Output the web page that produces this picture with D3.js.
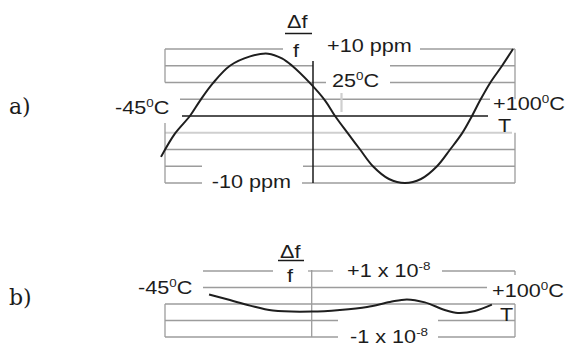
<!DOCTYPE html>
<html>
<head>
<meta charset="utf-8">
<script src="https://cdn.jsdelivr.net/npm/d3@7"></script>
<style>
  body { margin: 0; background: #fff; }
  svg { display: block; }
  .grid { stroke: #9c9c9c; stroke-width: 1.3; fill: none; }
  .light { stroke: #cfcfcf; stroke-width: 2.2; fill: none; }
  .axis { stroke: #1a1a1a; stroke-width: 1.5; fill: none; }
  .curve { stroke: #1e1e1e; stroke-width: 2; fill: none; }
  .lbl { font-family: "Liberation Sans", Arial, sans-serif; font-size: 18.5px; fill: #1c1c1c; }
  .tag { font-family: "DejaVu Serif", serif; font-size: 22px; fill: #1c1c1c; }
</style>
</head>
<body>
<div id="chart"></div>
<script>

// panel a: frequency deviation in ppm vs temperature (deg C)
var tempA = [-45, -39.2, -33.1, -28.9, -23.6, -16.6, -8.3, -0.9, 4.8, 9.0, 16.4, 22.6, 26.7, 32.0, 37.0, 42.3, 48.9, 55.5, 62.1, 68.7, 74.1, 79.0, 83.1, 86.4, 90.5, 95.5, 100];
var ppmA  = [-6.1, -2.6, 0, 2.3, 4.9, 7.5, 8.9, 9.3, 8.6, 7.5, 4.9, 2.3, 0, -2.6, -5.0, -7.5, -9.4, -10, -9.4, -7.5, -5.0, -2.6, 0, 2.3, 4.9, 7.5, 10];

// panel b: deviation in units of 1e-8
var tempB = [-25.2, -16.6, -8.3, 1.1, 17.2, 28.7, 39.9, 49.3, 56.3, 63.7, 71.9, 77.3, 84.3, 91.3];
var devB  = [0.29, 0.12, -0.05, -0.20, -0.23, -0.18, -0.09, 0.06, 0.14, 0.05, -0.18, -0.27, -0.21, -0.02];

// grid levels
var levelsA = [10, 7.5, 5, 2.5, 0, -2.5, -5, -7.5, -10];
var levelsB = [1, 0.5, 0, -0.5, -1];

var width = 565, height = 346;

var svg = d3.select("#chart").append("svg")
    .attr("width", width)
    .attr("height", height);

var x = d3.scaleLinear().domain([-45, 100]).range([161, 513]);
var yA = d3.scaleLinear().domain([-10, 10]).range([183, 49]);
var yB = d3.scaleLinear().domain([-1, 1]).range([337, 271]);

var line = function(g, x1, y1, x2, y2, cls) {
    g.append("line").attr("class", cls)
	.attr("x1", x1).attr("y1", y1).attr("x2", x2).attr("y2", y2);
};

// text is a bit wider than the font, so stretch it
var label = function(g, lx, ly, parts) {
    var t = g.append("text").attr("class", "lbl")
	.attr("transform", "translate(" + lx + "," + ly + ")scale(1.17,1)");
    parts.forEach(function(p) {
	if (typeof p == "string") t.append("tspan").text(p);
	else t.append("tspan").attr("font-size", 11.5).attr("dy", -7).text(p.sup)
	    .call(function() { p.after && t.append("tspan").attr("dy", 7).text(p.after); });
    });
    return t;
};

//---------------- panel a ----------------
var a = svg.append("g");

// gaps in the grid lines where labels sit (pixels)
var segA = {
    "10":   [[165, 283], [420, 515]],
    "7.5":  [[165, 313], [390, 515]],
    "5":    [[165, 326], [390, 515]],
    "2.5":  [[180, 490]],
    "-2.5": [[165, 512]],
    "-5":   [[165, 515]],
    "-7.5": [[165, 202], [303, 515]],
    "-10":  [[165, 202], [302, 515]]
};
levelsA.forEach(function(v) {
    if (v == 0) return;
    segA[String(v)].forEach(function(s) {
	line(a, s[0], yA(v), s[1], yA(v), v == -2.5 ? "light" : "grid");
    });
});

// frame sides
line(a, 165, yA(10), 165, yA(5), "grid");
line(a, 165, 123, 165, yA(-10), "grid");
line(a, 515, yA(10), 515, yA(2.5), "grid");
line(a, 515, yA(-2.5), 515, yA(-10), "grid");

// 25 C tick
line(a, 341.5, 93, 341.5, 112, "light");

// axes
line(a, 182, yA(0), 488, yA(0), "axis");
line(a, 313, 61, 313, yA(-10), "axis");

a.append("path").attr("class", "curve")
    .datum(d3.zip(tempA, ppmA))
    .attr("d", d3.line().x(function(d) { return x(d[0]); }).y(function(d) { return yA(d[1]); })
	  .curve(d3.curveCatmullRom));

label(a, 287, 28, ["\u0394f"]);
line(a, 285, 33.5, 312, 33.5, "axis");
label(a, 293, 56.5, ["f"]);
label(a, 327, 51.7, ["+10 ppm"]);
label(a, 332, 86.7, ["25", {sup: "0", after: "C"}]);
label(a, 115, 114, ["-45", {sup: "0", after: "C"}]);
label(a, 493, 110, ["+100", {sup: "0", after: "C"}]);
label(a, 498, 132, ["T"]);
label(a, 211.7, 188.3, ["-10 ppm"]);

a.append("text").attr("class", "tag").attr("x", 9).attr("y", 114).text("a)");

//---------------- panel b ----------------
var b = svg.append("g");

var segB = {
    "1":    [[203, 273], [308, 333], [442, 515]],
    "0.5":  [[203, 487]],
    "0":    [[165, 515]],
    "-0.5": [[165, 338], [438, 515]],
    "-1":   [[165, 338], [438, 515]]
};
levelsB.forEach(function(v) {
    segB[String(v)].forEach(function(s) {
	line(b, s[0], yB(v), s[1], yB(v), "grid");
    });
});

line(b, 515, yB(1), 515, yB(1) + 4, "grid");
line(b, 165, yB(0), 165, yB(-1), "grid");
line(b, 515, yB(0), 515, yB(-1), "grid");
line(b, 311.7, yB(1) - 1, 311.7, yB(-1), "grid");

b.append("path").attr("class", "curve")
    .datum(d3.zip(tempB, devB))
    .attr("d", d3.line().x(function(d) { return x(d[0]); }).y(function(d) { return yB(d[1]); })
	  .curve(d3.curveCatmullRom));

label(b, 280, 258, ["\u0394f"]);
line(b, 278, 260.5, 304, 260.5, "axis");
label(b, 287, 282, ["f"]);
label(b, 347, 277, ["+1 x 10", {sup: "-8"}]);
label(b, 138, 294, ["-45", {sup: "0", after: "C"}]);
label(b, 492, 297, ["+100", {sup: "0", after: "C"}]);
label(b, 500, 321, ["T"]);
label(b, 350, 342.5, ["-1 x 10", {sup: "-8"}]);

b.append("text").attr("class", "tag").attr("x", 9).attr("y", 305).text("b)");

</script>
</body>
</html>
